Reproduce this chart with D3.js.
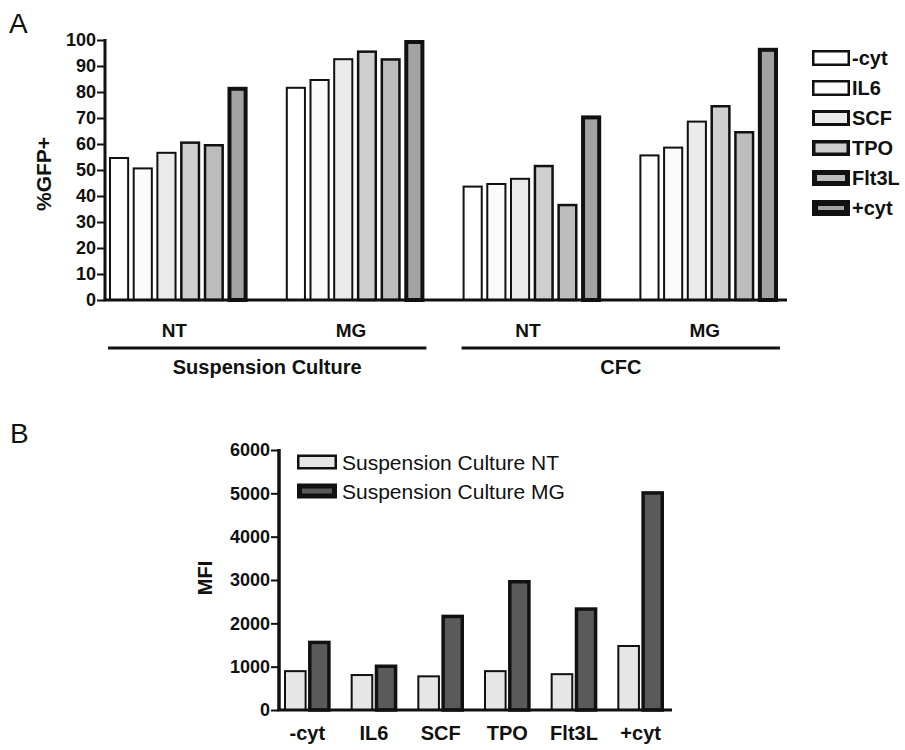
<!DOCTYPE html>
<html>
<head>
<meta charset="utf-8">
<script src="https://cdn.jsdelivr.net/npm/d3@7"></script>
<style>
  body { margin: 0; background: #fff; }
  svg { display: block; font-family: "Liberation Sans", Arial, sans-serif; }
</style>
</head>
<body>
<svg id="chart" width="905" height="750"></svg>
<script>
// ---------- Panel A data ----------
const groupsA = ["Suspension NT", "Suspension MG", "CFC NT", "CFC MG"];
const groupLabelsA = ["NT", "MG", "NT", "MG"];
const seriesA = ["-cyt", "IL6", "SCF", "TPO", "Flt3L", "+cyt"];
const valuesA_cyt_minus = [55, 82, 44, 56];
const valuesA_IL6 = [51, 85, 45, 59];
const valuesA_SCF = [57, 93, 47, 69];
const valuesA_TPO = [61, 96, 52, 75];
const valuesA_Flt3L = [60, 93, 37, 65];
const valuesA_cyt_plus = [82, 100, 71, 97];
const ticksA = [0, 10, 20, 30, 40, 50, 60, 70, 80, 90, 100];
const bracketsA = [{label: "Suspension Culture", from: 0, to: 1}, {label: "CFC", from: 2, to: 3}];

// ---------- Panel B data ----------
const categoriesB = ["-cyt", "IL6", "SCF", "TPO", "Flt3L", "+cyt"];
const seriesB = ["Suspension Culture NT", "Suspension Culture MG"];
const valuesB_NT = [920, 830, 800, 920, 850, 1500];
const valuesB_MG = [1600, 1050, 2200, 3000, 2370, 5050];
const ticksB = [0, 1000, 2000, 3000, 4000, 5000, 6000];

// ---------- styles ----------
const styleA = {
  "-cyt":  {fill: "#ffffff", stroke: "#111", sw: 2},
  "IL6":   {fill: "#fbfbfb", stroke: "#111", sw: 2},
  "SCF":   {fill: "#ebebeb", stroke: "#111", sw: 2},
  "TPO":   {fill: "#cfcfcf", stroke: "#111", sw: 2.5},
  "Flt3L": {fill: "#bdbdbd", stroke: "#111", sw: 2.5},
  "+cyt":  {fill: "#a3a3a3", stroke: "#111", sw: 4}
};
const legendSwA = {"-cyt": 2.5, "IL6": 2.5, "SCF": 3, "TPO": 3.5, "Flt3L": 5, "+cyt": 6};
const styleB = {
  "Suspension Culture NT": {fill: "#e6e6e6", stroke: "#111", sw: 2},
  "Suspension Culture MG": {fill: "#5a5a5a", stroke: "#111", sw: 3.5}
};

const svg = d3.select("#chart");
const ink = "#111";
const FONT = "Liberation Sans, Arial, sans-serif";

// ================= PANEL A =================
const A = {left: 105, right: 787, top: 40, bottom: 300};
const yA = d3.scaleLinear().domain([0, 100]).range([A.bottom, A.top]);
const x0A = d3.scaleBand().domain(groupsA).range([109, 778]).paddingInner(0.216).paddingOuter(0);
const x1A = d3.scaleBand().domain(seriesA).range([0, x0A.bandwidth()]).paddingInner(0.15).paddingOuter(0);

const seriesValuesA = {
  "-cyt": valuesA_cyt_minus, "IL6": valuesA_IL6, "SCF": valuesA_SCF,
  "TPO": valuesA_TPO, "Flt3L": valuesA_Flt3L, "+cyt": valuesA_cyt_plus
};

const gA = svg.append("g");
groupsA.forEach((g, gi) => {
  seriesA.forEach(s => {
    const v = seriesValuesA[s][gi];
    const st = styleA[s];
    gA.append("rect")
      .attr("x", x0A(g) + x1A(s) + st.sw / 2)
      .attr("y", yA(v) + st.sw / 2)
      .attr("width", x1A.bandwidth() - st.sw)
      .attr("height", yA(0) - yA(v) - st.sw / 2)
      .attr("fill", st.fill)
      .attr("stroke", st.stroke)
      .attr("stroke-width", st.sw);
  });
});

// y axis A
const axA = gA.append("g").attr("transform", `translate(${A.left},0)`)
  .call(d3.axisLeft(yA).tickValues(ticksA).tickFormat(d3.format("d")).tickSize(8).tickPadding(1).tickSizeOuter(0));
axA.select(".domain").remove();
axA.selectAll(".tick line").attr("stroke", ink).attr("stroke-width", 2);
axA.selectAll(".tick text").attr("fill", ink).attr("font-size", 18).attr("font-weight", "bold")
  .attr("font-family", FONT);
gA.append("line").attr("x1", A.left).attr("x2", A.left).attr("y1", yA(100) - 1).attr("y2", A.bottom + 1)
  .attr("stroke", ink).attr("stroke-width", 3);
gA.append("line").attr("x1", A.left - 1.5).attr("x2", A.right).attr("y1", A.bottom).attr("y2", A.bottom)
  .attr("stroke", ink).attr("stroke-width", 3);

// y title A
gA.append("text").attr("transform", `translate(51,${(A.top + A.bottom) / 2 + 4}) rotate(-90)`)
  .attr("text-anchor", "middle").attr("font-size", 21).attr("font-weight", "bold").attr("fill", ink)
  .text("%GFP+");

// group labels
groupsA.forEach((g, gi) => {
  gA.append("text").attr("x", x0A(g) + x0A.bandwidth() / 2 - 4).attr("y", 337)
    .attr("text-anchor", "middle").attr("font-size", 19).attr("font-weight", "bold").attr("fill", ink)
    .text(groupLabelsA[gi]);
});
bracketsA.forEach(b => {
  const x1 = x0A(groupsA[b.from]) - 1, x2 = x0A(groupsA[b.to]) + x0A.bandwidth() + 2;
  gA.append("line").attr("x1", x1).attr("x2", x2).attr("y1", 348).attr("y2", 348)
    .attr("stroke", ink).attr("stroke-width", 3);
  gA.append("text").attr("x", (x1 + x2) / 2).attr("y", 374)
    .attr("text-anchor", "middle").attr("font-size", 20).attr("font-weight", "bold").attr("fill", ink)
    .text(b.label);
});

// legend A
seriesA.forEach((s, i) => {
  const yc = 58 + i * 30;
  const sw = legendSwA[s];
  gA.append("rect").attr("x", 812 + sw / 2).attr("y", yc - 8 + sw / 2)
    .attr("width", 38 - sw).attr("height", 16 - sw)
    .attr("fill", styleA[s].fill).attr("stroke", ink).attr("stroke-width", sw);
  gA.append("text").attr("x", 852).attr("y", yc + 7)
    .attr("font-size", 20).attr("font-weight", "bold").attr("fill", ink).text(s);
});

// panel letter A
svg.append("text").attr("x", 9).attr("y", 33).attr("font-size", 28).attr("fill", ink).text("A");

// ================= PANEL B =================
const B = {left: 279, right: 672, top: 450, bottom: 710};
const yB = d3.scaleLinear().domain([0, 6000]).range([B.bottom, B.top]);
const x0B = d3.scaleBand().domain(categoriesB).range([284, 664]).paddingInner(0.3).paddingOuter(0);
const x1B = d3.scaleBand().domain(seriesB).range([0, x0B.bandwidth()]).paddingInner(0.06).paddingOuter(0);
const seriesValuesB = {"Suspension Culture NT": valuesB_NT, "Suspension Culture MG": valuesB_MG};

const gB = svg.append("g");
categoriesB.forEach((c, ci) => {
  seriesB.forEach(s => {
    const v = seriesValuesB[s][ci];
    const st = styleB[s];
    gB.append("rect")
      .attr("x", x0B(c) + x1B(s) + st.sw / 2)
      .attr("y", yB(v) + st.sw / 2)
      .attr("width", x1B.bandwidth() - st.sw)
      .attr("height", yB(0) - yB(v) - st.sw / 2)
      .attr("fill", st.fill).attr("stroke", st.stroke).attr("stroke-width", st.sw);
  });
});

const axB = gB.append("g").attr("transform", `translate(${B.left},0)`)
  .call(d3.axisLeft(yB).tickValues(ticksB).tickFormat(d3.format("d")).tickSize(8).tickPadding(1).tickSizeOuter(0));
axB.select(".domain").remove();
axB.selectAll(".tick line").attr("stroke", ink).attr("stroke-width", 2);
axB.selectAll(".tick text").attr("fill", ink).attr("font-size", 18).attr("font-weight", "bold")
  .attr("font-family", FONT);
gB.append("line").attr("x1", B.left).attr("x2", B.left).attr("y1", yB(6000) - 1).attr("y2", B.bottom + 1)
  .attr("stroke", ink).attr("stroke-width", 3.5);
gB.append("line").attr("x1", B.left - 1.5).attr("x2", B.right).attr("y1", B.bottom).attr("y2", B.bottom)
  .attr("stroke", ink).attr("stroke-width", 3);

// x labels B
const axBx = gB.append("g").attr("transform", `translate(0,${B.bottom})`)
  .call(d3.axisBottom(x0B).tickSize(0).tickPadding(16));
axBx.select(".domain").remove();
axBx.selectAll(".tick text").attr("fill", ink).attr("font-size", 20).attr("font-weight", "bold")
  .attr("font-family", FONT);

// y title B
gB.append("text").attr("transform", `translate(212,${(B.top + B.bottom) / 2 - 2}) rotate(-90)`)
  .attr("text-anchor", "middle").attr("font-size", 20).attr("font-weight", "bold").attr("fill", ink)
  .text("MFI");

// legend B
seriesB.forEach((s, i) => {
  const yc = 462 + i * 29;
  const st = styleB[s];
  const sw = i === 0 ? 2.5 : 5;
  gB.append("rect").attr("x", 297 + sw / 2).attr("y", yc - 7.5 + sw / 2)
    .attr("width", 40 - sw).attr("height", 15 - sw)
    .attr("fill", st.fill).attr("stroke", ink).attr("stroke-width", sw);
  gB.append("text").attr("x", 342).attr("y", yc + 7.5)
    .attr("font-size", 21).attr("fill", ink).text(s);
});

svg.append("text").attr("x", 10).attr("y", 443).attr("font-size", 28).attr("fill", ink).text("B");
</script>
</body>
</html>
